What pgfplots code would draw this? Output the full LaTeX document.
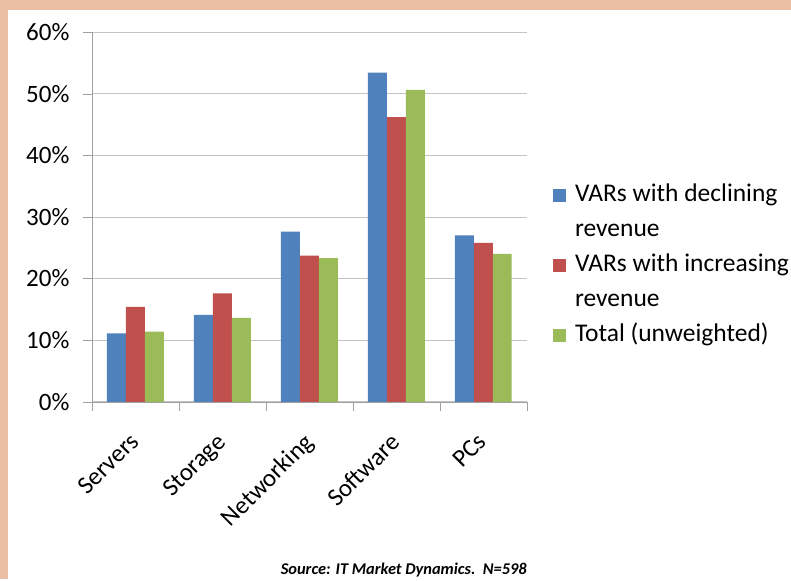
\documentclass[border=0pt]{standalone}
\usepackage{fontspec}
\setmainfont{Carlito}
\usepackage{pgfplots}
\pgfplotsset{compat=1.18}
\definecolor{bgsalmon}{HTML}{EBBFA4}
\definecolor{sblue}{HTML}{4F81BD}
\definecolor{sred}{HTML}{C0504D}
\definecolor{sgreen}{HTML}{9BBB59}
\definecolor{axisgray}{HTML}{A0A0A0}
\definecolor{gridgray}{HTML}{C4C4C4}
\begin{document}
\begin{tikzpicture}[x=1pt,y=1pt]
\fill[bgsalmon] (0,0) rectangle (791,579);
\fill[white] (8,0) rectangle (791,569);
\begin{axis}[
  at={(92pt,177pt)}, anchor=south west,
  scale only axis, width=435pt, height=370pt,
  ymin=0, ymax=60, ytick={0,10,...,60},
  xmin=-0.5, xmax=4.5,
  xtick={-0.5,0.5,...,4.5}, xticklabels={},
  extra x ticks={0,1,2,3,4},
  extra x tick labels={Servers,Storage,Networking,Software,PCs},
  extra x tick style={major tick length=0pt, grid=none},
  axis x line=bottom, axis y line=left,
  axis line style={-, draw=axisgray},
  ymajorgrids, grid style={draw=gridgray, line width=0.6pt},
  tick align=outside, major tick length=9pt,
  tick style={draw=axisgray},
  yticklabel={\pgfmathprintnumber{\tick}\%},
  /pgf/number format/assume math mode=true,
  ticklabel style={font=\fontsize{25}{30}\selectfont},
  yticklabel style={xshift=-10pt},
  xticklabel style={xshift=-7pt, yshift=-25pt, rotate=45, anchor=north east},
  ybar=0pt, bar width=19pt,
  enlargelimits=false,
  legend style={draw=none, fill=none, inner sep=0pt, at={(1.06,0.595)}, anchor=north west,
    font=\fontsize{25.5}{30}\selectfont, row sep=11.5pt, column sep=7pt,
    cells={anchor=base west, inner sep=0pt, text height=18pt, text depth=6pt}},
  legend image code/.code={\fill[#1] (0pt,0pt) rectangle (13pt,13pt);},
]
\addplot[fill=sblue, draw=none] coordinates {(0,11.1) (1,14.1) (2,27.6) (3,53.4) (4,27.0)};
\addlegendentry{VARs with declining}
\addlegendimage{empty legend}
\addlegendentry{revenue}
\addplot[fill=sred, draw=none] coordinates {(0,15.4) (1,17.6) (2,23.7) (3,46.2) (4,25.8)};
\addlegendentry{VARs with increasing}
\addlegendimage{empty legend}
\addlegendentry{revenue}
\addplot[fill=sgreen, draw=none] coordinates {(0,11.4) (1,13.6) (2,23.3) (3,50.6) (4,24.0)};
\addlegendentry{Total (unweighted)}
\end{axis}
\node[font=\fontsize{16.4}{19}\selectfont\bfseries\itshape] at (404,9) {Source: IT Market Dynamics.\ \ N=598};
\end{tikzpicture}
\end{document}
